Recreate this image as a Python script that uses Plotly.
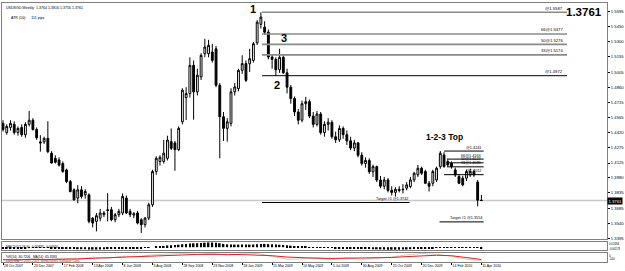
import plotly.graph_objects as go

# ---------------- data ----------------
tick_labels = ["28 Oct 2007", "23 Dec 2007", "17 Feb 2008", "13 Apr 2008", "8 Jun 2008",
               "3 Aug 2008", "28 Sep 2008", "23 Nov 2008", "18 Jan 2009", "15 Mar 2009",
               "10 May 2009", "5 Jul 2009", "30 Aug 2009", "25 Oct 2009", "20 Dec 2009",
               "14 Feb 2010", "11 Apr 2010"]

opens = [1.4510,1.4420,1.4470,1.4500,1.4420,1.4470,1.4400,1.4500,1.4540,1.4450,
         1.4330,1.4330,1.4364,1.4220,1.4170,1.4155,1.4120,1.4058,1.3945,1.3865,
         1.3785,1.3865,1.3816,1.3816,1.3590,1.3559,1.3591,1.3624,1.3672,1.3672,
         1.3575,1.3624,1.3640,1.3785,1.3656,1.3620,1.3640,1.3575,1.3527,1.3591,
         1.3720,1.4042,1.4140,1.4140,1.4171,1.4332,1.4320,1.4255,1.4525,1.4760,
         1.4799,1.5072,1.4815,1.4960,1.5185,1.5185,1.5201,1.5233,1.4879,1.4573,
         1.4461,1.4509,1.4815,1.4847,1.5024,1.5089,1.5088,1.5120,1.5290,1.5470,
         1.5443,1.5394,1.5153,1.5130,1.5030,1.5150,1.5000,1.4860,1.4750,1.4620,
         1.4540,1.4700,1.4720,1.4580,1.4500,1.4600,1.4420,1.4500,1.4520,1.4380,
         1.4350,1.4460,1.4400,1.4340,1.4270,1.4320,1.4200,1.4120,1.4150,1.4040,
         1.4090,1.3960,1.3900,1.3960,1.3860,1.3840,1.3870,1.3865,1.3881,1.3897,
         1.3961,1.4010,1.4074,1.4042,1.3929,1.3929,1.3961,1.4090,1.4203,1.4139,
         1.4122,1.4058,1.3994,1.3978,1.3978,1.4010,1.4042,1.3940,1.3764]
highs = [1.4540,1.4500,1.4540,1.4530,1.4480,1.4500,1.4520,1.4630,1.4560,1.4470,
         1.4395,1.4380,1.4530,1.4240,1.4200,1.4180,1.4140,1.4070,1.3960,1.3880,
         1.3910,1.3900,1.3870,1.3830,1.3600,1.3640,1.3680,1.3660,1.3833,1.3700,
         1.3640,1.3680,1.3830,1.3810,1.3680,1.3650,1.3660,1.3590,1.3600,1.3740,
         1.4060,1.4190,1.4200,1.4350,1.4390,1.4460,1.4340,1.4480,1.4850,1.4860,
         1.5150,1.5120,1.5040,1.5190,1.5330,1.5320,1.5280,1.5260,1.4900,1.4620,
         1.4560,1.4850,1.4900,1.5040,1.5170,1.5120,1.5233,1.5300,1.5510,1.5587,
         1.5500,1.5420,1.5180,1.5150,1.5233,1.5170,1.5040,1.4880,1.4770,1.4650,
         1.4730,1.4767,1.4740,1.4620,1.4630,1.4620,1.4530,1.4560,1.4540,1.4430,
         1.4490,1.4480,1.4440,1.4380,1.4350,1.4330,1.4230,1.4180,1.4170,1.4110,
         1.4100,1.4000,1.3990,1.3980,1.3900,1.3890,1.3900,1.3920,1.3940,1.3990,
         1.4040,1.4106,1.4090,1.4060,1.3950,1.4060,1.4090,1.4241,1.4230,1.4160,
         1.4140,1.4080,1.4010,1.4000,1.4060,1.4070,1.4060,1.3960,1.3816]
lows = [1.4430,1.4400,1.4440,1.4400,1.4390,1.4380,1.4370,1.4480,1.4440,1.4350,
        1.4235,1.4310,1.4220,1.4120,1.4120,1.4090,1.4030,1.3930,1.3840,1.3760,
        1.3735,1.3780,1.3780,1.3540,1.3500,1.3462,1.3560,1.3600,1.3559,1.3560,
        1.3550,1.3600,1.3620,1.3630,1.3600,1.3590,1.3530,1.3446,1.3500,1.3570,
        1.3700,1.4010,1.4100,1.4120,1.4150,1.4250,1.4050,1.4240,1.4500,1.4541,
        1.4760,1.4545,1.4780,1.4930,1.5150,1.5150,1.5100,1.4860,1.4171,1.4340,
        1.4332,1.4480,1.4780,1.4820,1.4990,1.4911,1.5008,1.5100,1.5270,1.5430,
        1.5370,1.5130,1.5040,1.4972,1.5000,1.4990,1.4800,1.4700,1.4580,1.4500,
        1.4520,1.4640,1.4560,1.4470,1.4480,1.4400,1.4380,1.4440,1.4360,1.4320,
        1.4330,1.4360,1.4300,1.4250,1.4240,1.4180,1.4100,1.4080,1.4020,1.3990,
        1.3940,1.3880,1.3870,1.3840,1.3810,1.3800,1.3840,1.3830,1.3860,1.3880,
        1.3940,1.3990,1.4010,1.3920,1.3849,1.3900,1.3940,1.4070,1.4080,1.4090,
        1.4070,1.3990,1.3920,1.3900,1.3950,1.3990,1.3990,1.3704,1.3756]
closes = [1.4450,1.4480,1.4510,1.4420,1.4460,1.4400,1.4500,1.4540,1.4450,1.4370,
          1.4320,1.4364,1.4235,1.4125,1.4132,1.4105,1.4042,1.3945,1.3849,1.3768,
          1.3865,1.3800,1.3849,1.3559,1.3543,1.3614,1.3640,1.3640,1.3665,1.3575,
          1.3624,1.3656,1.3801,1.3640,1.3624,1.3633,1.3543,1.3527,1.3591,1.3720,
          1.4042,1.4171,1.4180,1.4220,1.4348,1.4268,1.4255,1.4461,1.4831,1.4799,
          1.5072,1.4815,1.4976,1.5169,1.5250,1.5266,1.5121,1.4879,1.4573,1.4461,
          1.4525,1.4815,1.4863,1.5024,1.5089,1.4927,1.5137,1.5282,1.5491,1.5540,
          1.5394,1.5153,1.5130,1.5030,1.5150,1.5000,1.4860,1.4750,1.4620,1.4540,
          1.4700,1.4720,1.4580,1.4500,1.4600,1.4420,1.4500,1.4520,1.4380,1.4350,
          1.4460,1.4400,1.4340,1.4270,1.4320,1.4200,1.4120,1.4150,1.4040,1.4090,
          1.3960,1.3900,1.3960,1.3860,1.3840,1.3870,1.3860,1.3870,1.3913,1.3961,
          1.4026,1.4074,1.4026,1.3929,1.3900,1.4042,1.4074,1.4219,1.4090,1.4106,
          1.4090,1.4010,1.3929,1.3913,1.4042,1.4042,1.4010,1.3764,1.3761]

macd = [-0.012,-0.012,-0.011,-0.010,-0.010,-0.009,-0.008,-0.007,-0.006,-0.006,
        -0.006,-0.006,-0.007,-0.008,-0.009,-0.010,-0.011,-0.012,-0.014,-0.016,
        -0.017,-0.017,-0.017,-0.019,-0.020,-0.020,-0.019,-0.018,-0.016,-0.015,
        -0.014,-0.013,-0.011,-0.010,-0.009,-0.008,-0.008,-0.008,-0.007,-0.005,
        0.000,0.005,0.008,0.011,0.015,0.017,0.018,0.021,0.025,0.028,
        0.032,0.033,0.034,0.036,0.038,0.040,0.040,0.038,0.033,0.028,
        0.024,0.023,0.022,0.022,0.023,0.022,0.022,0.023,0.025,0.028,
        0.028,0.026,0.024,0.022,0.021,0.019,0.016,0.013,0.009,0.006,
        0.004,0.003,0.001,-0.001,-0.002,-0.004,-0.005,-0.006,-0.007,-0.008,
        -0.008,-0.009,-0.010,-0.011,-0.012,-0.013,-0.014,-0.015,-0.016,-0.017,
        -0.018,-0.019,-0.020,-0.021,-0.021,-0.021,-0.021,-0.020,-0.019,-0.017,
        -0.015,-0.012,-0.010,-0.010,-0.010,-0.008,-0.006,-0.003,-0.002,-0.001,
        -0.001,-0.002,-0.003,-0.005,-0.005,-0.005,-0.005,-0.007,-0.008]

wpr_weeks = [0,4,8,12,16,20,24,28,32,36,40,44,48,52,56,60,64,68,72,76,80,84,88,92,
             96,100,104,108,112,116,120,124,128]
wpr = [-70,-85,-60,-80,-55,-75,-45,-60,-35,-40,-20,-10,-5,-15,-5,-25,-10,-5,-40,-70,
       -65,-50,-75,-55,-70,-60,-45,-20,-5,-15,-35,-70,-85]
wpr_ma = [-75,-75,-74,-72,-70,-65,-60,-55,-50,-45,-38,-30,-22,-15,-13,-15,-18,-20,-30,-45,
          -55,-58,-60,-58,-55,-55,-50,-40,-30,-25,-30,-50,-72]

price_ticks = ["1.5595","1.5450","1.5300","1.5155","1.5005","1.4860","1.4715","1.4565",
               "1.4420","1.4275","1.4125","1.3980","1.3835","1.3685","1.3540","1.3395"]

p1_levels = [1.5587, 1.5377, 1.5276, 1.5174, 1.4972]
p1_labels = ["@1.5587", "66@1.5377", "50@1.5276", "33@1.5174", "@1.4972"]
p2_levels = [1.4241, 1.4163, 1.4127, 1.4088, 1.4012]
p2_labels = ["@1.4241", "66@1.4163", "50@1.4127", "33@1.4088", "@1.4012"]
targets = [1.3742, 1.3554]
target_labels = ["Target #1 @1.3742", "Target #1 @1.3554"]
last_price = 1.3761

# ---------------- figure ----------------
n = len(closes)
idx = list(range(n))
FONT = "Liberation Sans"

fig = go.Figure()
fig.add_trace(go.Candlestick(
    x=idx, open=opens, high=highs, low=lows, close=closes,
    increasing=dict(line=dict(color="#000000", width=1), fillcolor="#ffffff"),
    decreasing=dict(line=dict(color="#000000", width=1), fillcolor="#000000"),
    whiskerwidth=0, xaxis="x", yaxis="y", showlegend=False, hoverinfo="skip"))

fig.add_trace(go.Bar(x=idx, y=macd, marker=dict(color="#000000", line=dict(width=0)),
                     width=0.45, xaxis="x2", yaxis="y2", showlegend=False))

fig.add_trace(go.Scatter(x=wpr_weeks, y=wpr, mode="lines",
                         line=dict(color="#d9cbb5", width=1), xaxis="x3", yaxis="y3",
                         showlegend=False))
fig.add_trace(go.Scatter(x=wpr_weeks, y=wpr_ma, mode="lines",
                         line=dict(color="#e02020", width=1), xaxis="x3", yaxis="y3",
                         showlegend=False))

xr = [-0.267, 161.6]
frame = "#808080"
common_x = dict(range=xr, showgrid=False, zeroline=False, showline=True, mirror=True,
                linecolor=frame, linewidth=1, fixedrange=True)

shapes = []
annotations = []

def hline(x0, x1, y, color, width):
    shapes.append(dict(type="line", xref="x", yref="y", x0=x0, x1=x1, y0=y, y1=y,
                       line=dict(color=color, width=width)))

def small_label(x, y, text, anchor="right", size=4.2):
    annotations.append(dict(x=x, y=y, xref="x", yref="y", text=text, showarrow=False,
                            xanchor=anchor, yanchor="bottom", yshift=-0.5,
                            font=dict(family=FONT, size=size, color="#000000")))

# bid line
shapes.append(dict(type="line", xref="paper", yref="y", x0=0, x1=1, y0=last_price, y1=last_price,
                   line=dict(color="#c8c8c8", width=1.5), layer="below"))

# first 1-2-3 pattern
p1_x0, p1_x1 = 69.3, 150.9
for k, (lv, lb) in enumerate(zip(p1_levels, p1_labels)):
    col = "#000000" if k == len(p1_levels) - 1 else "#8a8a8a"
    wd = 1 if k == len(p1_levels) - 1 else 1.6
    hline(p1_x0, p1_x1, lv, col, wd)
    small_label(p1_x1 - 0.5, lv, lb)

# second 1-2-3 pattern
p2_x0, p2_x1 = 118.0, 128.6
for k, (lv, lb) in enumerate(zip(p2_levels, p2_labels)):
    hline(p2_x0 if k in (0, 4) else p2_x0 + 0.8, p2_x1, lv, "#000000", 1)
    small_label(p2_x1 - 0.3, lv, lb, size=3.8)

# targets
t_spans = [(69.3, 108.8), (116.8, 128.6)]
for (a, b), tv, tl in zip(t_spans, targets, target_labels):
    hline(a, b, tv, "#000000", 1)
    small_label(b, tv, tl, size=3.8)

def big(x, y, text, size):
    annotations.append(dict(x=x, y=y, xref="x", yref="y", text="<b>" + text + "</b>",
                            showarrow=False, xanchor="center", yanchor="middle",
                            font=dict(family=FONT, size=size, color="#000000")))

big(66.9, 1.5615, "1", 11)
big(75.2, 1.5335, "3", 11)
big(73.3, 1.4880, "2", 11)
big(118.1, 1.4377, "1-2-3 Top", 8.5)

# top-left info
annotations.append(dict(x=0.003, y=1, xref="paper", yref="paper", yshift=-1,
                        text="USDSGD,Weekly  1.3764 1.3816 1.3756 1.3761",
                        showarrow=False, xanchor="left", yanchor="top",
                        font=dict(family=FONT, size=3.6, color="#000000")))
annotations.append(dict(x=0.011, y=1, xref="paper", yref="paper", yshift=-11,
                        text="ATR (10):     111 pips",
                        showarrow=False, xanchor="left", yanchor="top",
                        font=dict(family=FONT, size=3.6, color="#000000")))
# big price top-right
annotations.append(dict(x=1, y=1, xref="paper", yref="paper", xshift=-3, yshift=-1,
                        text="<b>1.3761</b>", showarrow=False, xanchor="right", yanchor="top",
                        font=dict(family=FONT, size=11.5, color="#000000")))
# last price box on axis
annotations.append(dict(x=1, y=last_price, xref="paper", yref="y", xshift=0,
                        text="1.3761", showarrow=False, xanchor="left", yanchor="middle",
                        bgcolor="#000000", borderpad=0.5,
                        font=dict(family=FONT, size=4.2, color="#ffffff")))
# indicator labels
annotations.append(dict(x=0.004, y=0.0772, xref="paper", yref="paper", yshift=-1,
                        text="MACD(12,26,9) -0.00835 -0.00950", showarrow=False,
                        xanchor="left", yanchor="top",
                        font=dict(family=FONT, size=3.4, color="#000000")))
annotations.append(dict(x=0.004, y=0.0347, xref="paper", yref="paper", yshift=0,
                        text="%R(14) -80.7206   MA(14) -65.3583", showarrow=False,
                        xanchor="left", yanchor="top",
                        font=dict(family=FONT, size=3.2, color="#000000")))
annotations.append(dict(x=0.004, y=0.0347, xref="paper", yref="paper", yshift=-3.5,
                        text="Daily MA, © 2005-2009, MetaQuotes Software Corp.", showarrow=False,
                        xanchor="left", yanchor="top",
                        font=dict(family=FONT, size=3.2, color="#e02020")))
for yy, tx, anc, sh in [(0.0772, "0.01694", "top", 1.5), (0.0463, "-0.00178", "bottom", -1.5),
                        (0.0347, "0", "top", 0), (0.0, "-100", "bottom", 0)]:
    annotations.append(dict(x=1, y=yy, xref="paper", yref="paper", xshift=1, yshift=sh,
                            text=tx, showarrow=False, xanchor="left", yanchor=anc,
                            borderpad=0, font=dict(family=FONT, size=2.8, color="#000000")))

price_vals = [float(t) for t in price_ticks]

fig.update_layout(
    width=625, height=271,
    margin=dict(l=1, r=17, t=3, b=9),
    paper_bgcolor="#ffffff", plot_bgcolor="#ffffff",
    showlegend=False,
    font=dict(family=FONT, size=4.2, color="#000000"),
    xaxis=dict(common_x, domain=[0, 1], anchor="y", showticklabels=False,
               rangeslider=dict(visible=False)),
    xaxis2=dict(common_x, domain=[0, 1], anchor="y2", matches="x", showticklabels=False),
    xaxis3=dict(common_x, domain=[0, 1], anchor="y3", matches="x",
                tickmode="array", tickvals=list(range(0, 129, 8)), ticktext=tick_labels,
                ticks="outside", ticklen=2, tickcolor="#000000",
                ticklabelposition="outside right",
                tickfont=dict(family=FONT, size=3.5, color="#000000")),
    yaxis=dict(domain=[0.0888, 1], anchor="x", side="right", range=[1.3388, 1.5677],
               tickmode="array", tickvals=price_vals, ticktext=price_ticks,
               ticks="outside", ticklen=2, tickcolor="#000000",
               tickfont=dict(family=FONT, size=4.2, color="#000000"),
               showgrid=False, zeroline=False, showline=True, mirror=True,
               linecolor=frame, linewidth=1, fixedrange=True),
    yaxis2=dict(domain=[0.0463, 0.0772], anchor="x2", side="right", range=[-0.024, 0.044],
                showticklabels=False, showgrid=False, zeroline=False, showline=True,
                mirror=True, linecolor=frame, linewidth=1, fixedrange=True),
    yaxis3=dict(domain=[0.0, 0.0347], anchor="x3", side="right", range=[-100, 0],
                showticklabels=False, showgrid=False, zeroline=False, showline=True,
                mirror=True, linecolor=frame, linewidth=1, fixedrange=True),
    shapes=shapes, annotations=annotations, bargap=0.5,
)

fig.write_html("out.html")
